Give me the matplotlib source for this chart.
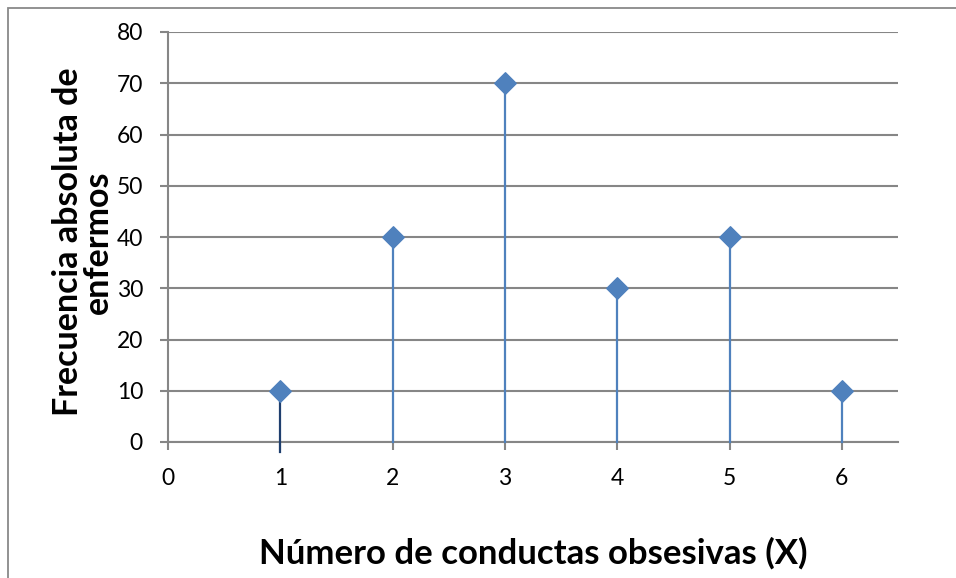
import matplotlib
matplotlib.use("Agg")
import matplotlib.pyplot as plt
from matplotlib.patches import Rectangle

# Data
x_vals = [1, 2, 3, 4, 5, 6]
freq = [10, 40, 70, 30, 40, 10]
stem_bottom = [-2, 0, 0, 0, 0, 0]
stem_colors = ["#1F3F6E", "#4F81BD", "#4F81BD", "#4F81BD", "#4F81BD", "#4F81BD"]
x_ticks = [0, 1, 2, 3, 4, 5, 6]
y_ticks = [0, 10, 20, 30, 40, 50, 60, 70, 80]
x_label = "Número de conductas obsesivas (X)"
y_label = "Frecuencia absoluta de\nenfermos"

plt.rcParams['font.family'] = ['Lato', 'DejaVu Sans']

W, H = 956, 578
fig = plt.figure(figsize=(W / 100, H / 100), dpi=100)
fig.patch.set_facecolor("white")

# outer chart border
fig.patches.append(Rectangle((8 / W, -0.01), 1.0, 1 - 8 / H + 0.01, transform=fig.transFigure,
                             fill=False, edgecolor="#898989", linewidth=1.3))

ax = fig.add_axes([168 / W, 1 - 442 / H, (898 - 168) / W, (442 - 32) / H])
ax.set_xlim(0, 6.5)
ax.set_ylim(0, 80)

grid_c = "#868686"
for yt in y_ticks:
    ax.axhline(yt, color=grid_c, linewidth=1.5, zorder=1)

for xv, yv, yb, c in zip(x_vals, freq, stem_bottom, stem_colors):
    ax.plot([xv, xv], [yb, yv], color=c, linewidth=1.6, zorder=3, clip_on=False)

ax.scatter(x_vals, freq, marker="D", s=120, color="#4F81BD", edgecolors="#4F81BD",
           zorder=4, clip_on=False)

for s in ["top", "right"]:
    ax.spines[s].set_visible(False)
for s in ["left", "bottom"]:
    ax.spines[s].set_color(grid_c)
    ax.spines[s].set_linewidth(1.5)

ax.set_xticks(x_ticks)
ax.set_yticks(y_ticks)
ax.tick_params(axis="both", direction="out", length=6, width=1.5, color=grid_c,
               labelsize=16.5, labelcolor="black")
ax.tick_params(axis="y", pad=12)
ax.tick_params(axis="x", pad=13)

fig.text(533 / W, 1 - 553 / H, x_label, ha="center", va="center",
         fontsize=25, fontweight="bold")
fig.text(83 / W, 1 - 242 / H, y_label, ha="center", va="center", rotation=90,
         fontsize=24.5, fontweight="bold", linespacing=0.92)

fig.savefig("out.png", dpi=100, facecolor="white")
